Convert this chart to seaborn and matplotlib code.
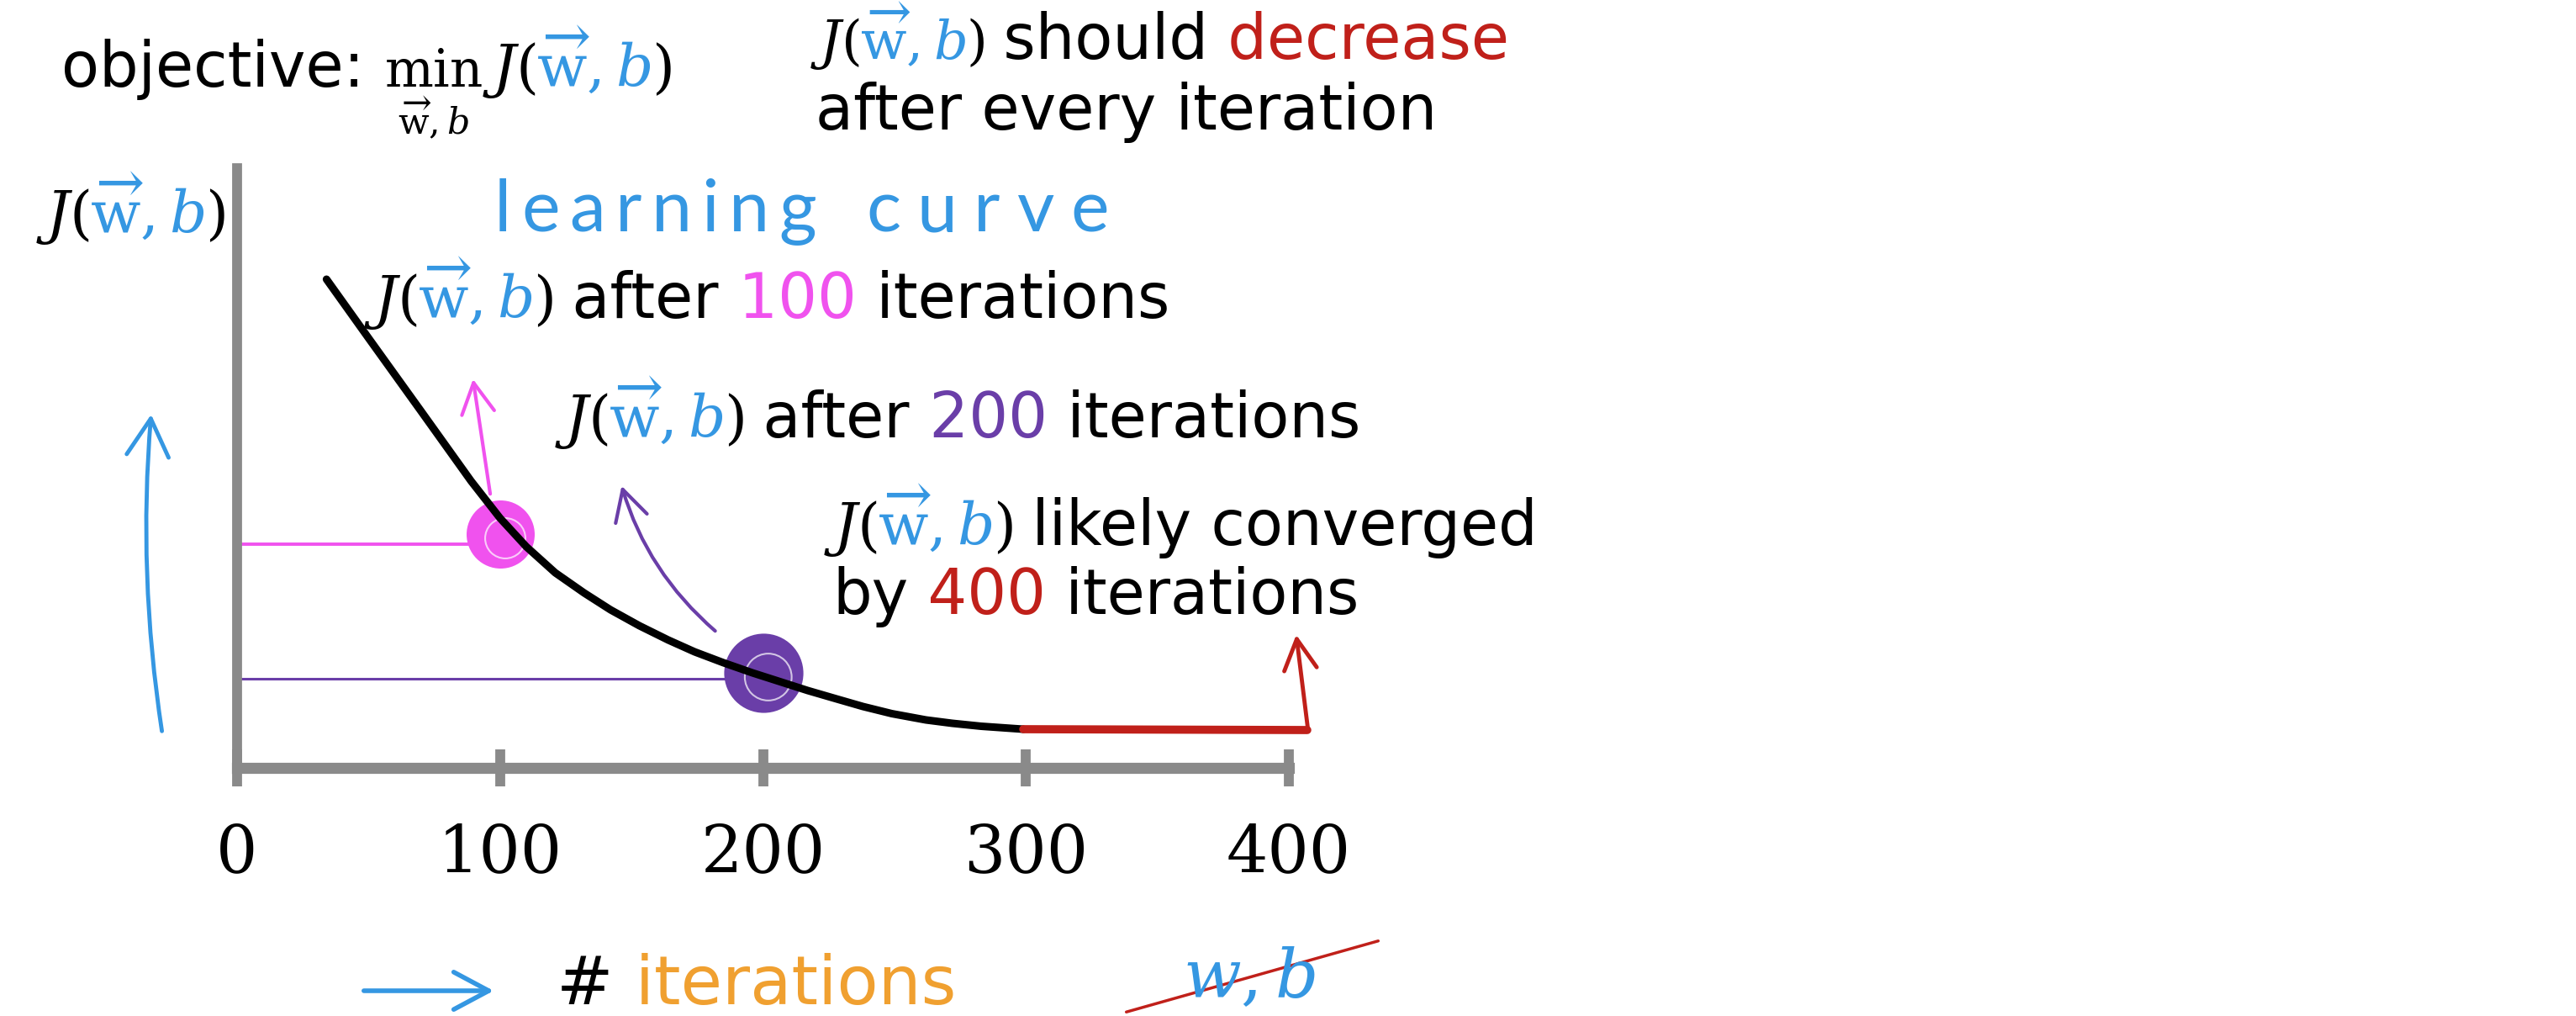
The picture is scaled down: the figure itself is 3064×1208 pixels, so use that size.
import matplotlib
matplotlib.use("Agg")
import matplotlib.pyplot as plt
import seaborn as sns
import pandas as pd

# learning curve: iterations vs cost J(w,b)
iterations = [34, 50, 70, 89, 100, 110, 121, 132, 142, 153, 164, 174, 185, 196, 206,
              217, 228, 238, 249, 262, 272, 283, 299]
cost = [5.81, 5.11, 4.24, 3.41, 2.97, 2.63, 2.32, 2.08, 1.88, 1.69, 1.52, 1.38, 1.25, 1.13, 1.03,
        0.92, 0.82, 0.73, 0.645, 0.57, 0.53, 0.495, 0.46]

# red flat tail after convergence
conv_iters = [299, 407]
conv_cost = [0.46, 0.45]

# circled checkpoints and the hand drawn levels back to the J axis
mark_iters = [100, 200]
mark_cost = [2.78, 1.13]
level_cost = [2.66, 1.06]

xticks = [0, 100, 200, 300, 400]

pink = "#f052ee"
purple = "#6a3ea8"
red = "#c0201a"
blue = "#3597e2"
orange = "#f0a030"
grey = "#8a8a8a"
k = "black"

sns.set_theme(style="white")
plt.rcParams["font.family"] = ["DejaVu Sans"]
plt.rcParams["mathtext.fontset"] = "dejavuserif"
plt.rcParams["text.color"] = "black"

W, H = 3064, 1208
fig = plt.figure(figsize=(W / 100, H / 100), dpi=100)
fig.patch.set_facecolor("white")
renderer = fig.canvas.get_renderer()

ax = fig.add_axes([282 / W, 1 - 913 / H, (1533 - 282) / W, (913 - 200) / H])
ax.patch.set_alpha(0)

# levels + circles
for mx, my, ly, c, s, lw in zip(mark_iters, mark_cost, level_cost, [pink, purple], [3400, 4600], [2.8, 2.2]):
    ax.plot([0, mx], [ly, ly], color=c, lw=lw, zorder=2, solid_capstyle="round")
    sns.scatterplot(x=[mx], y=[my], s=s, color=c, linewidth=0, ax=ax, zorder=3, legend=False)
    ax.scatter([mx + 2], [my - 0.05], s=s * 0.35, facecolors="none", edgecolors="white",
               linewidths=1.5, alpha=0.7, zorder=3)

df = pd.DataFrame({"iterations": iterations, "cost": cost})
sns.lineplot(data=df, x="iterations", y="cost", color=k, lw=6.5, ax=ax, zorder=5)
sns.lineplot(x=conv_iters, y=conv_cost, color=red, lw=7, ax=ax, zorder=5)
ax.lines[-1].set_clip_on(False)

ax.set_xlim(0, 400)
ax.set_ylim(0, 7.13)
ax.set_xticks(xticks)
ax.set_xticklabels([str(t) for t in xticks], fontfamily="DejaVu Serif", fontsize=56, color=k)
ax.set_yticks([])
ax.set_xlabel("")
ax.set_ylabel("")
for s in ["top", "right"]:
    ax.spines[s].set_visible(False)
ax.spines["left"].set(color=grey, lw=8.5)
ax.spines["bottom"].set(color=grey, lw=9.5)
ax.tick_params(axis="x", direction="inout", length=32, width=8.5, color=grey, pad=30, bottom=True)

# hand drawn arrows pointing at the notes
head = "->,head_length=1.3,head_width=0.7"
ax.annotate("", xy=(89.6, 4.65), xytext=(96.4, 3.23), annotation_clip=False,
            arrowprops=dict(arrowstyle=head, color=pink, lw=3, mutation_scale=20))
ax.annotate("", xy=(146, 3.38), xytext=(182.5, 1.61), annotation_clip=False,
            arrowprops=dict(arrowstyle=head, color=purple, lw=3, mutation_scale=20,
                            connectionstyle="arc3,rad=-0.15"))
ax.annotate("", xy=(402.7, 1.61), xytext=(407.3, 0.45), annotation_clip=False,
            arrowprops=dict(arrowstyle=head, color=red, lw=3.5, mutation_scale=20))


def fp(x, y):
    return (x / W, 1 - y / H)


ax.annotate("", xy=fp(180, 490), xytext=fp(193, 872), xycoords="figure fraction",
            arrowprops=dict(arrowstyle="->,head_length=1.6,head_width=0.9", color=blue, lw=3.5,
                            mutation_scale=20, connectionstyle="arc3,rad=-0.06"))
ax.annotate("", xy=fp(590, 1178), xytext=fp(430, 1178), xycoords="figure fraction",
            arrowprops=dict(arrowstyle="->,head_length=1.5,head_width=0.8", color=blue, lw=4,
                            mutation_scale=20))
ax.annotate("", xy=fp(1642, 1118), xytext=fp(1337, 1204), xycoords="figure fraction",
            arrowprops=dict(arrowstyle="-", color=red, lw=2.5))


def write(x, y, parts, size=53):
    # lay coloured pieces one after another on a common baseline
    for p in parts:
        s, c = p[0], p[1]
        fs = p[2] if len(p) > 2 else size
        t = fig.text(x / W, 1 - y / H, s, color=c, fontsize=fs, va="baseline", ha="left")
        x = t.get_window_extent(renderer).x1


def spread(x0, x1, y, word, **kw):
    # handwritten word: letters spaced out evenly between x0 and x1
    ts = [fig.text(0, 1 - y / H, ch, va="baseline", ha="left", **kw) for ch in word]
    ws = [t.get_window_extent(renderer).width for t in ts]
    gap = (x1 - x0 - sum(ws)) / (len(ws) - 1)
    x = x0
    for t, w in zip(ts, ws):
        t.set_x(x / W)
        x += w + gap


m = 50
JW = [(r"$J($", k, m), (r"$\overrightarrow{\mathrm{w}},b$", blue, m), (r"$)$", k, m)]

write(73, 103, [("objective: ", k), (r"$\min_{\overrightarrow{\mathrm{w}},b}$", k, 44)] + JW)
write(964, 70, [(r"$J($", k, 46), (r"$\overrightarrow{\mathrm{w}},b$", blue, 46), (r"$)$", k, 46),
                (" should", k), (" decrease", red)])
write(970, 154, [("after every iteration", k)])
write(43, 277, JW)
write(433, 378, JW + [(" after", k), (" 100", pink), (" iterations", k)])
write(660, 520, JW + [(" after", k), (" 200", purple), (" iterations", k)])
write(980, 648, JW + [(" likely converged", k)])
write(990, 730, [("by", k), (" 400", red), (" iterations", k)])
write(662, 1194, [("#", k), (" iterations", orange)], size=58)

spread(588, 971, 275, "learning", color=blue, fontsize=62, family="Lato")
spread(1030, 1319, 275, "curve", color=blue, fontsize=62, family="Lato")
fig.text(1407 / W, 1 - 1186 / H, r"$w,b$", color=blue, fontsize=58)

fig.savefig("out.png", dpi=100, facecolor="white")
